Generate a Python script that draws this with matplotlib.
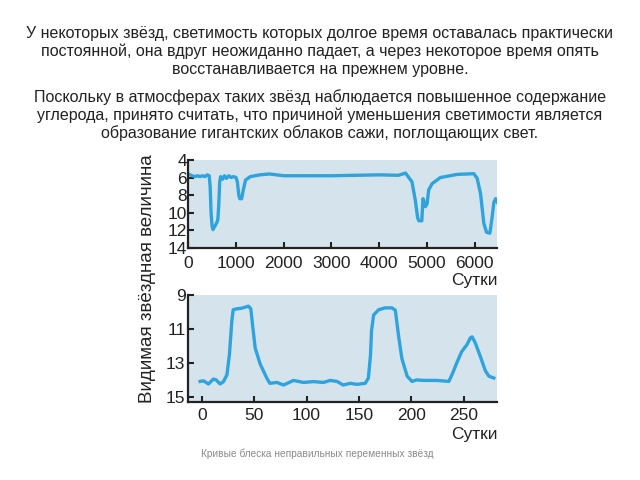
import matplotlib
matplotlib.use("Agg")
import matplotlib.pyplot as plt

# Кривая блеска 1: долгий ряд (сутки, звёздная величина)
days_long = [0, 80, 150, 200, 250, 300, 350, 400, 440, 460, 480, 500, 520, 560,
             600, 620, 640, 660, 680, 720, 760, 800, 850, 900, 950, 1000, 1030,
             1060, 1080, 1120, 1150, 1200, 1300, 1500, 1700, 2000, 2500, 3000,
             3500, 4000, 4400, 4550, 4685, 4755, 4804, 4830, 4890, 4916, 4965,
             5000, 5035, 5105, 5280, 5630, 5979, 6049, 6119, 6189, 6245, 6315,
             6364, 6399, 6434, 6469]
mag_long = [5.6, 5.8, 5.9, 5.8, 5.9, 5.8, 5.9, 5.7, 5.8, 7.0, 10.0, 11.5, 11.9,
            11.5, 11.1, 10.8, 9.2, 6.5, 5.9, 6.2, 5.8, 6.1, 5.8, 6.0, 5.9, 6.0,
            6.5, 8.0, 8.4, 8.4, 7.5, 6.3, 5.9, 5.7, 5.6, 5.8, 5.8, 5.8, 5.75,
            5.7, 5.75, 5.5, 6.5, 8.6, 10.6, 10.9, 10.9, 8.4, 9.3, 9.0, 7.4, 6.7,
            6.0, 5.65, 5.57, 6.1, 7.8, 11.2, 12.2, 12.3, 10.4, 8.8, 8.4, 8.8]

# Кривая блеска 2: короткий ряд
days_short = [-1.6, 1.6, 6.4, 11, 13.7, 17.5, 20.7, 24, 26.4, 28.7, 30, 33, 38,
              44.6, 46.8, 48.7, 51, 55.7, 62, 65, 71.7, 78, 87.6, 97, 106.7,
              116, 122.6, 129, 135, 141.7, 148, 156, 159, 161, 162, 164, 168.8,
              175, 181.5, 184.7, 188, 191, 196, 200.6, 205, 211.8, 224.5,
              235.7, 238.9, 243.6, 248, 253, 256.4, 258, 261, 266, 270.7, 274,
              278.7]
mag_short = [14.09, 14.05, 14.24, 13.95, 14.0, 14.24, 14.1, 13.7, 12.5, 10.5,
             9.87, 9.82, 9.78, 9.66, 9.82, 10.9, 12.13, 13.06, 13.89, 14.2,
             14.15, 14.3, 14.03, 14.15, 14.1, 14.15, 14.03, 14.09, 14.3, 14.2,
             14.26, 14.2, 13.89, 12.55, 11.1, 10.18, 9.87, 9.76, 9.76, 9.9,
             11.5, 12.75, 13.78, 14.09, 14.0, 14.03, 14.03, 14.09, 13.68,
             12.96, 12.34, 11.93, 11.52, 11.47, 11.82, 12.65, 13.47, 13.78,
             13.89]

ticks_long_x = [0, 1000, 2000, 3000, 4000, 5000, 6000]
ticks_long_y = [4, 6, 8, 10, 12, 14]
ticks_short_x = [0, 50, 100, 150, 200, 250]
ticks_short_y = [9, 11, 13, 15]

para1 = ("У некоторых звёзд, светимость которых долгое время оставалась практически\n"
         "постоянной, она вдруг неожиданно падает, а через некоторое время опять\n"
         "восстанавливается на прежнем уровне.")
para2 = ("Поскольку в атмосферах таких звёзд наблюдается повышенное содержание\n"
         "углерода, принято считать, что причиной уменьшения светимости является\n"
         "образование гигантских облаков сажи, поглощающих свет.")
caption = "Кривые блеска неправильных переменных звёзд"

BG = "#d5e4ec"
LINE = "#2ea3dd"
DARK = "#222222"
NARROW = ["Liberation Sans Narrow", "Liberation Sans", "DejaVu Sans"]

plt.rcParams["font.family"] = ["Liberation Sans", "DejaVu Sans"]

fig = plt.figure(figsize=(6.4, 4.8), dpi=100)

ax1 = fig.add_axes([0.294, 0.483, 0.483, 0.184])
ax2 = fig.add_axes([0.294, 0.1625, 0.483, 0.223])

for ax in (ax1, ax2):
    ax.set_facecolor(BG)
    for s in ("top", "right"):
        ax.spines[s].set_visible(False)
    for s in ("left", "bottom"):
        ax.spines[s].set_linewidth(1.6)
        ax.spines[s].set_color(DARK)
    ax.tick_params(direction="in", length=4, width=1.5, color=DARK,
                   labelsize=12.5, labelcolor=DARK, pad=2)

ax1.plot(days_long, mag_long, color=LINE, lw=2.4, solid_joinstyle="round")
ax1.set_xlim(0, 6470)
ax1.set_ylim(14, 4)
ax1.set_xticks(ticks_long_x)
ax1.set_yticks(ticks_long_y)
ax1.tick_params(axis="y", pad=1)
ax1.tick_params(axis="x", pad=6)

ax2.plot(days_short, mag_short, color=LINE, lw=2.4, solid_joinstyle="round")
ax2.set_xlim(-13, 282)
ax2.set_ylim(15.3, 9.0)
ax2.set_xticks(ticks_short_x)
ax2.set_yticks(ticks_short_y)
ax2.tick_params(axis="x", pad=4)

fig.text(0.777, 0.415, "Сутки", ha="right", va="center", fontsize=12.5, color=DARK)
fig.text(0.777, 0.094, "Сутки", ha="right", va="center", fontsize=12.5, color=DARK)
fig.text(0.231, 0.42, "Видимая звёздная величина", rotation=90,
         ha="center", va="center", fontsize=13.5, color=DARK)

fig.text(0.5, 0.893, para1, ha="center", va="center", fontsize=11.5,
         color=DARK, linespacing=1.2, family=NARROW)
fig.text(0.5, 0.76, para2, ha="center", va="center", fontsize=11.5,
         color=DARK, linespacing=1.2, family=NARROW)
fig.text(0.495, 0.054, caption, ha="center", va="center", fontsize=7.3,
         color="#8a8a8a")

fig.savefig("out.png", dpi=100)
